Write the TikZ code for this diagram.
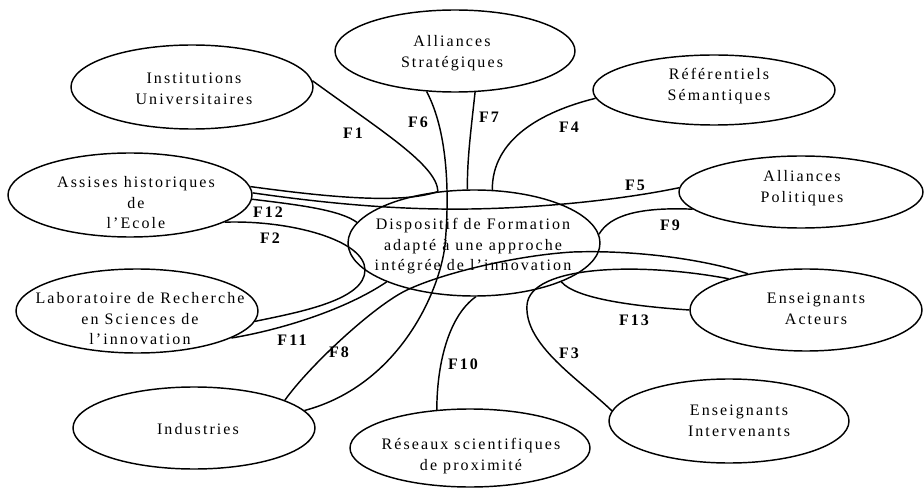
\documentclass[tikz,border=0pt]{standalone}
\usepackage{fontspec}
\setmainfont{Liberation Serif}[LetterSpace=13]
\usetikzlibrary{shapes.geometric}
\begin{document}
\begin{tikzpicture}[x=1pt,y=-1pt,line width=1.45pt,
  ell/.style 2 args={draw,ellipse,inner sep=0pt,minimum width=#1,minimum height=#2},
  txt/.style={align=center,inner sep=0pt,font=\fontsize{16}{20.5}\selectfont},
  flab/.style={inner sep=0pt,font=\fontsize{16}{20}\selectfont\bfseries}]
\useasboundingbox (0,0) rectangle (924,489);
% ellipses
\node[ell={240pt}{82pt}]  (strat)   at (455,51)  {};
\node[ell={242pt}{84pt}]  (inst)    at (192,87)  {};
\node[ell={242pt}{70pt}]  (ref)     at (714,90)  {};
\node[ell={244pt}{84pt}]  (assises) at (130,195) {};
\node[ell={244pt}{72pt}]  (pol)     at (801,192) {};
\node[ell={252pt}{106pt}] (disp)    at (474,243) {};
\node[ell={242pt}{84pt}]  (lab)     at (137,311) {};
\node[ell={232pt}{82pt}]  (act)     at (806,310) {};
\node[ell={242pt}{82pt}]  (ind)     at (194,428) {};
\node[ell={240pt}{78pt}]  (res)     at (470,448) {};
\node[ell={240pt}{84pt}]  (interv)  at (729,421) {};
% texts
\node[txt] (t-strat)   at (452,53)  {Alliances\\Stratégiques};
\node[txt] (t-inst)    at (194,89)  {Institutions\\Universitaires};
\node[txt] (t-ref)     at (719,86)  {Référentiels\\Sémantiques};
\node[txt] (t-assises) at (136,203) {Assises historiques\\de\\l'Ecole};
\node[txt] (t-pol)     at (802,188) {Alliances\\Politiques};
\node[txt] (t-disp)    at (473,246.5) {Dispositif de Formation\\adapté à une approche\\intégrée de l'innovation};
\node[txt] (t-lab)     at (140,319) {Laboratoire de Recherche\\en Sciences de\\l'innovation};
\node[txt] (t-act)     at (816,309) {Enseignants\\Acteurs};
\node[txt] (t-ind)     at (198,429) {Industries};
\node[txt] (t-res)     at (471,456) {Réseaux scientifiques\\de proximité};
\node[txt] (t-interv)  at (739,421) {Enseignants\\Intervenants};
% connectors
\draw (inst.3) .. controls (380,130) and (437,165) .. (disp.125);
\draw (assises.4) .. controls (320,196) and (400,205) .. (disp.125);
\draw (assises.1) .. controls (330,204) and (400,210) .. (470,209) .. controls (540,208) and (620,200) .. (pol.178);
\draw (assises.-2.5) .. controls (300,205) and (340,210) .. (disp.170);
\draw (assises.-16) .. controls (290,220) and (365,240) .. (365,270) .. controls (365,300) and (300,312) .. (lab.-5);
\draw (lab.-16) .. controls (280,330) and (345,310) .. (disp.-156);
\draw (strat.-125) .. controls (447,130) and (450,190) .. (445,245) .. controls (440,290) and (400,385) .. (ind.9);
\draw (strat.-64) .. controls (471,130) and (467,160) .. (disp.97.5);
\draw (ref.-176) .. controls (540,112) and (492,140) .. (disp.71);
\draw (pol.-171) .. controls (640,207) and (610,215) .. (disp.4);
\draw (act.180) .. controls (630,306) and (575,298) .. (disp.-24);
\draw (act.148) .. controls (700,258) and (630,250) .. (573,252) .. controls (520,255) and (445,272) .. (407,290) .. controls (375,305) and (310,365) .. (ind.17);
\draw (act.158) .. controls (640,262) and (530,265) .. (527,305) .. controls (524,345) and (580,380) .. (interv.175.5);
\draw (res.131) .. controls (437,360) and (450,315) .. (disp.-88);
% labels
\node[flab] (f1)  at (353,133) {F1};
\node[flab] (f6)  at (418,122) {F6};
\node[flab] (f7)  at (489,117) {F7};
\node[flab] (f4)  at (569,127) {F4};
\node[flab] (f5)  at (635,185) {F5};
\node[flab] (f12) at (268,212) {F12};
\node[flab] (f2)  at (270,238) {F2};
\node[flab] (f9)  at (670,225) {F9};
\node[flab] (f13) at (634,320) {F13};
\node[flab] (f3)  at (569,353) {F3};
\node[flab] (f10) at (463,364) {F10};
\node[flab] (f11) at (292,340) {F11};
\node[flab] (f8)  at (339,352) {F8};
\end{tikzpicture}
\end{document}
